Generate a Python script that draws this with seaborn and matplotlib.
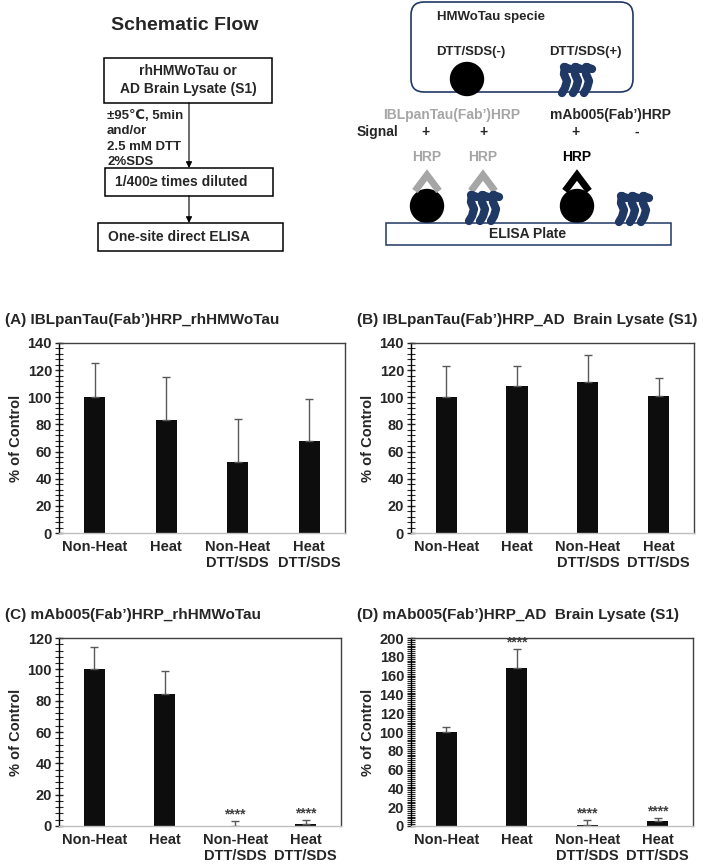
import numpy as np
import pandas as pd
import matplotlib
matplotlib.use("Agg")
import matplotlib.pyplot as plt
from matplotlib.patches import Rectangle, FancyBboxPatch, Circle
from matplotlib.ticker import MultipleLocator
import seaborn as sns

# ---- data ----
categories = ["Non-Heat", "Heat", "Non-Heat\nDTT/SDS", "Heat\nDTT/SDS"]

a_mean = [100, 83, 52, 68]
a_err = [25, 32, 32, 31]

b_mean = [100, 108, 111, 101]
b_err = [23, 15, 20, 13]

c_mean = [100, 84, 0, 1.5]
c_err = [14, 15, 3.2, 2.1]
c_stars = ["", "", "****", "****"]

d_mean = [100, 168, 1.5, 5]
d_err = [5.5, 20, 4.9, 3.1]
d_stars = ["", "****", "****", "****"]

titles = ["(A) IBLpanTau(Fab’)HRP_rhHMWoTau",
          "(B) IBLpanTau(Fab’)HRP_AD  Brain Lysate (S1)",
          "(C) mAb005(Fab’)HRP_rhHMWoTau",
          "(D) mAb005(Fab’)HRP_AD  Brain Lysate (S1)"]
y_max = [140, 140, 120, 200]
minor_step = [4, 4, 4, 2]

sns.set_theme(style="white")
plt.rcParams["font.family"] = ["Liberation Sans", "DejaVu Sans"]
plt.rcParams["font.weight"] = "bold"

NAVY = "#1f3864"
GREY = "#a6a6a6"

fig = plt.figure(figsize=(7.09, 8.65), dpi=100)

# ---- schematic drawn in pixel coordinates ----
sk = fig.add_axes([0, 0, 1, 1])
sk.set_xlim(0, 709)
sk.set_ylim(865, 0)
sk.axis("off")

def box(x0, y0, x1, y1, ec="black"):
    sk.add_patch(Rectangle((x0, y0), x1 - x0, y1 - y0, fill=False, ec=ec, lw=1.1))

def arrow(x, y0, y1):
    sk.annotate("", xy=(x, y1), xytext=(x, y0),
                arrowprops=dict(arrowstyle="-|>", lw=0.8, color="black", mutation_scale=9,
                                shrinkA=0, shrinkB=0))

def tangle(cx, cy):
    # three hooked strands, roughly like the cartoon
    for dx in (-11, 0, 11):
        xs = np.array([-4, -1, 1, -2, -1]) + cx + dx
        ys = np.array([14, 9, 2, -5, -12]) + cy
        sk.plot(xs, ys, color=NAVY, lw=6, solid_capstyle="round", solid_joinstyle="round")
        sk.plot([cx + dx - 2, cx + dx + 4], [cy - 12, cy - 10], color=NAVY, lw=6,
                solid_capstyle="round")

def chevron(cx, color):
    sk.plot([cx - 12, cx, cx + 12], [191, 175, 191], color=color, lw=5,
            solid_joinstyle="miter", solid_capstyle="butt")

sk.text(185, 25, "Schematic Flow", ha="center", va="center", fontsize=14, fontweight="bold")
box(104, 58, 272, 103)
sk.text(188, 80, "rhHMWoTau or\nAD Brain Lysate (S1)", ha="center", va="center",
        fontsize=10, linespacing=1.35)
arrow(189, 103, 168)
sk.text(107, 110, "±95℃, 5min\nand/or\n2.5 mM DTT\n2%SDS", ha="left", va="top",
        fontsize=9.5, linespacing=1.38)
box(105, 168, 273, 196)
sk.text(115, 182, "1/400≥ times diluted", ha="left", va="center", fontsize=10)
arrow(189, 196, 223)
box(98, 223, 283, 251)
sk.text(108, 237, "One-site direct ELISA", ha="left", va="center", fontsize=10)

sk.add_patch(FancyBboxPatch((411, 2), 222, 90, boxstyle="round,pad=0,rounding_size=13",
                            fill=False, ec=NAVY, lw=1.2))
sk.text(437, 17, "HMWoTau specie", ha="left", va="center", fontsize=9.5)
sk.text(436, 52, "DTT/SDS(-)", ha="left", va="center", fontsize=9.5)
sk.text(549, 52, "DTT/SDS(+)", ha="left", va="center", fontsize=9.5)
sk.add_patch(Circle((467, 79), 16.5, color="black"))
tangle(577, 79)

sk.text(383, 115, "IBLpanTau(Fab’)HRP", ha="left", va="center", fontsize=10, color=GREY)
sk.text(550, 115, "mAb005(Fab’)HRP", ha="left", va="center", fontsize=10)
sk.text(357, 132, "Signal", ha="left", va="center", fontsize=10)
for x, s in zip([425, 483, 575, 637], ["+", "+", "+", "-"]):
    sk.text(x, 132, s, ha="center", va="center", fontsize=10)
for x, c in zip([427, 483, 577], [GREY, GREY, "black"]):
    sk.text(x, 157, "HRP", ha="center", va="center", fontsize=10, color=c)
    chevron(x, c)
sk.add_patch(Circle((427, 206), 16.5, color="black"))
tangle(484, 207)
sk.add_patch(Circle((577, 206), 16.5, color="black"))
tangle(634, 208)
box(386, 223, 671, 245, ec=NAVY)
sk.text(528, 234, "ELISA Plate", ha="center", va="center", fontsize=10)

# ---- bar panels ----
positions = [[0.0832, 0.3838, 0.4034, 0.2197],
             [0.5797, 0.3838, 0.3990, 0.2197],
             [0.0832, 0.0451, 0.3977, 0.2173],
             [0.5797, 0.0451, 0.3977, 0.2173]]
means = [a_mean, b_mean, c_mean, d_mean]
errs = [a_err, b_err, c_err, d_err]
stars = [["", "", "", ""], ["", "", "", ""], c_stars, d_stars]

for i in range(4):
    ax = fig.add_axes(positions[i])
    df = pd.DataFrame({"cond": categories, "val": means[i]})
    sns.barplot(data=df, x="cond", y="val", color="#0d0d0d", saturation=1,
                width=0.3, ax=ax, errorbar=None, edgecolor="#0d0d0d", linewidth=0)
    x = np.arange(len(categories))
    ax.errorbar(x, means[i], yerr=[np.zeros(4), errs[i]], fmt="none",
                ecolor="#595959", elinewidth=1, capsize=3, capthick=1)
    for j, s in enumerate(stars[i]):
        if s:
            ax.annotate(s, (j, means[i][j] + errs[i][j]), xytext=(0, 0),
                        textcoords="offset points", ha="center", va="bottom",
                        fontsize=10, color="#404040", annotation_clip=False)
    ax.set_ylim(0, y_max[i])
    ax.set_xlim(-0.5, 3.5)
    ax.yaxis.set_major_locator(MultipleLocator(20))
    ax.yaxis.set_minor_locator(MultipleLocator(minor_step[i]))
    ax.tick_params(axis="y", which="major", direction="inout", length=6, width=1,
                   labelsize=10.5, left=True, pad=2)
    ax.tick_params(axis="y", which="minor", direction="inout", length=6, width=0.8, left=True)
    ax.tick_params(axis="x", length=0, labelsize=10.5, pad=5)
    for lab in ax.get_xticklabels() + ax.get_yticklabels():
        lab.set_fontweight("bold")
    ax.set_xlabel("")
    ax.set_ylabel("% of Control", fontsize=10.5, fontweight="bold", labelpad=3)
    ax.spines["left"].set_color("black")
    ax.spines["top"].set_color("#404040")
    ax.spines["right"].set_color("#404040")
    ax.spines["bottom"].set_color("#bfbfbf")
    for sp in ax.spines.values():
        sp.set_linewidth(1)
    ax.set_title(titles[i], loc="left", fontsize=11, fontweight="bold", x=-0.19, pad=14)

fig.savefig("out.png", dpi=100)
